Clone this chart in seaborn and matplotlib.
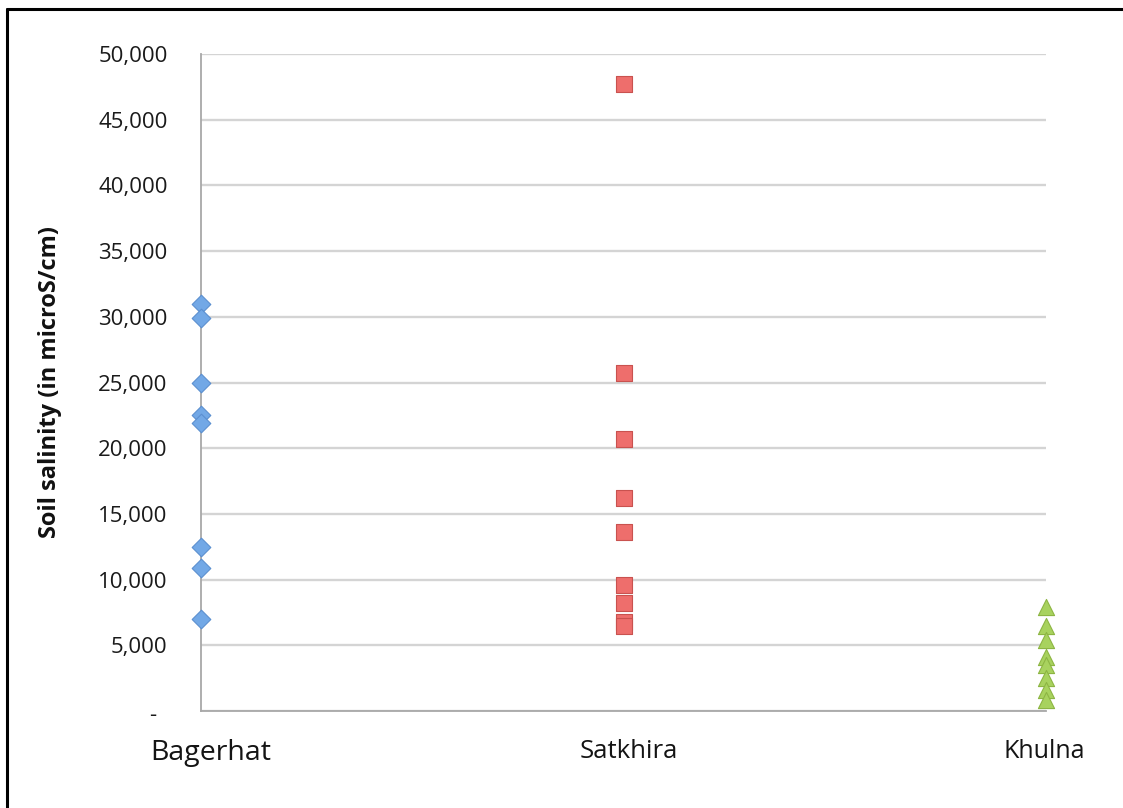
import numpy as np
import pandas as pd
import matplotlib
matplotlib.use("Agg")
import matplotlib.pyplot as plt
import seaborn as sns
from matplotlib.lines import Line2D
from matplotlib.ticker import FixedLocator, FuncFormatter
from matplotlib.transforms import ScaledTranslation

# Soil salinity samples (microS/cm) per district
districts = ["Bagerhat", "Satkhira", "Khulna"]
bagerhat = [31000, 29900, 25000, 22500, 21900, 12500, 10900, 7000]
satkhira = [47700, 25700, 20700, 16200, 13600, 9600, 8200, 6800, 6500]
khulna = [7900, 6500, 5400, 4100, 3500, 2500, 1600, 800]
y_ticks = [0, 5000, 10000, 15000, 20000, 25000, 30000, 35000, 40000, 45000, 50000]

styles = {
    "Bagerhat": dict(marker="D", s=90, color="#72A8E6", edgecolor="#5B8FD0"),
    "Satkhira": dict(marker="s", s=135, color="#EE6E6C", edgecolor="#C9524F"),
    "Khulna": dict(marker="^", s=135, color="#A8D25E", edgecolor="#8DB543"),
}
label_sizes = {"Bagerhat": 20.5, "Satkhira": 18.5, "Khulna": 18}
label_shift_px = {"Bagerhat": 10, "Satkhira": 5, "Khulna": -2}

sns.set_theme(style="white")
plt.rcParams["font.family"] = ["Open Sans", "DejaVu Sans"]

df = pd.DataFrame({
    "district": np.repeat(districts, [len(bagerhat), len(satkhira), len(khulna)]),
    "salinity": bagerhat + satkhira + khulna,
})
df["pos"] = df["district"].map({d: i for i, d in enumerate(districts)})

W, H = 1123, 808
fig = plt.figure(figsize=(W / 100, H / 100), dpi=100)
ax = fig.add_axes([201 / W, 1 - 711 / H, 845 / W, 657 / H])

for d in districts:
    st = styles[d]
    sns.scatterplot(data=df[df["district"] == d], x="pos", y="salinity",
                    marker=st["marker"], s=st["s"], color=st["color"],
                    edgecolor=st["edgecolor"], linewidth=0.8,
                    ax=ax, zorder=3, clip_on=False, legend=False)

ax.set_xlim(0, 2)
ax.set_ylim(0, 50000)

# y axis: thousands separators, dash for zero
ax.yaxis.set_major_locator(FixedLocator(y_ticks))
ax.yaxis.set_major_formatter(FuncFormatter(lambda v, p: "" if v == 0 else f"{int(v):,}"))
ax.tick_params(axis="y", length=0, pad=24, labelsize=16, labelcolor="#1a1a1a")
ax.annotate("-", xy=(0, 0), xycoords=ax.get_yaxis_transform(),
            xytext=(-35, -3), textcoords="offset points",
            ha="center", va="center", fontsize=16, color="#1a1a1a")

ax.set_xticks(range(len(districts)))
ax.set_xticklabels(districts)
ax.tick_params(axis="x", length=0, pad=20)
for lbl, d in zip(ax.get_xticklabels(), districts):
    lbl.set_fontsize(label_sizes[d])
    lbl.set_color("#141414")
    lbl.set_transform(lbl.get_transform() +
                      ScaledTranslation(label_shift_px[d] / 100, 0, fig.dpi_scale_trans))

ax.set_xlabel("")
ax.set_ylabel("Soil salinity (in microS/cm)", fontsize=17, fontweight="bold", color="#111111")
ax.yaxis.set_label_coords(-0.165, 0.5)

ax.yaxis.grid(True, color="#D4D4D4", linewidth=1.7)
ax.xaxis.grid(False)
ax.set_axisbelow(True)
for side in ("top", "right"):
    ax.spines[side].set_visible(False)
for side in ("left", "bottom"):
    ax.spines[side].set_color("#A8A8A8")
    ax.spines[side].set_linewidth(1.3)

# outer frame along the top and left edges
fig.add_artist(Line2D([7 / W, 1.01], [1 - 9 / H, 1 - 9 / H], color="black", lw=2.2, transform=fig.transFigure))
fig.add_artist(Line2D([7 / W, 7 / W], [-0.01, 1 - 9 / H], color="black", lw=2.2, transform=fig.transFigure))

fig.savefig("out.png", dpi=100, facecolor="white")
